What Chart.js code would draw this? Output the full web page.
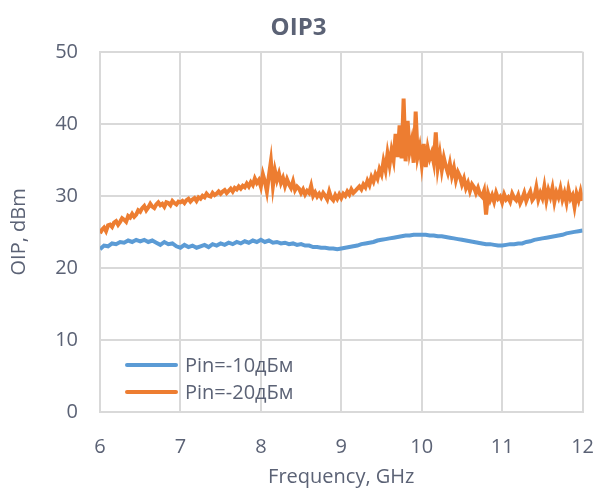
<!DOCTYPE html>
<html>
<head>
<meta charset="utf-8">
<script src="https://cdn.jsdelivr.net/npm/chart.js@4.4.1/dist/chart.umd.min.js"></script>
<style>
  html, body { margin: 0; padding: 0; background: #fff; }
  #wrap { position: relative; width: 597px; height: 489px; }
  #legend { position: absolute; left: 125px; top: 351px; font-family: "Open Sans", sans-serif; font-size: 20px; color: #5b6275; }
  .row { display: flex; align-items: center; height: 27px; }
  .sw { width: 53px; height: 4px; border-radius: 2px; margin-right: 7px; }
</style>
</head>
<body>
<div id="wrap">
  <canvas id="c" width="597" height="489"></canvas>
  <div id="legend"></div>
</div>
<script>
const TEXT = '#5b6275';
const GRID = '#d9d9d9';

const seriesNames = ['Pin=-10дБм', 'Pin=-20дБм'];
const seriesColors = ['#5b9bd5', '#ed7d31'];
const xTicks = [6, 7, 8, 9, 10, 11, 12];
const yTicks = [0, 10, 20, 30, 40, 50];

// blue: 6.00 .. 12.00 GHz, step 0.05
const blueStart = 6, blueStep = 0.05;
const blueValues = [
  22.6, 23.1, 23.0, 23.4, 23.3, 23.6, 23.5, 23.8, 23.6, 23.9,
  23.7, 23.9, 23.6, 23.8, 23.5, 23.2, 23.6, 23.3, 23.4, 23.0,
  22.8, 23.2, 22.9, 23.1, 22.8, 23.0, 23.2, 22.9, 23.3, 23.1,
  23.4, 23.2, 23.5, 23.3, 23.6, 23.4, 23.7, 23.5, 23.8, 23.6,
  23.9, 23.6, 23.8, 23.5, 23.6, 23.4, 23.5, 23.3, 23.4, 23.2,
  23.3, 23.1, 23.1, 22.9, 22.9, 22.8, 22.8, 22.7, 22.7, 22.6,
  22.7, 22.8, 22.9, 23.0, 23.1, 23.3, 23.4, 23.5, 23.6, 23.8,
  23.9, 24.0, 24.1, 24.2, 24.3, 24.4, 24.5, 24.5, 24.6, 24.6,
  24.6, 24.6, 24.5, 24.5, 24.4, 24.4, 24.3, 24.2, 24.1, 24.0,
  23.9, 23.8, 23.7, 23.6, 23.5, 23.4, 23.3, 23.3, 23.2, 23.1,
  23.1, 23.2, 23.3, 23.3, 23.4, 23.4, 23.6, 23.7, 23.9, 24.0,
  24.1, 24.2, 24.3, 24.4, 24.5, 24.6, 24.8, 24.9, 25.0, 25.1,
  25.2
];

// orange: 6.000 .. 12.000 GHz, step 0.025
const orangeStart = 6, orangeStep = 0.025;
const orangeValues = [
  24.8, 25.3, 25.6, 25.1, 25.9, 26.0, 25.7, 26.3, 26.5, 26.0,
  26.4, 26.9, 26.7, 26.4, 27.2, 27.0, 27.5, 27.1, 27.4, 28.0,
  27.8, 28.3, 28.6, 28.0, 28.4, 28.9, 28.5, 28.3, 28.8, 29.1,
  28.7, 28.9, 28.5, 29.1, 29.0, 28.7, 29.3, 29.0, 28.8, 29.2,
  29.1, 29.3, 29.0, 29.4, 29.6, 29.2, 29.5, 29.7, 29.3, 29.8,
  29.6, 30.0, 29.8, 30.3, 30.0, 29.9, 30.4, 30.1, 30.3, 30.6,
  30.3, 30.6, 30.8, 30.4, 30.7, 31.0, 30.6, 31.1, 30.9, 31.3,
  31.0, 31.4, 31.2, 31.7, 31.3, 31.9, 31.5, 32.4, 31.8, 32.2,
  31.3, 33.0, 32.0, 30.6, 32.8, 34.8, 31.4, 33.5, 32.2, 33.1,
  31.8, 32.5, 31.4, 32.3, 31.6, 31.1, 32.0, 30.8, 31.3, 31.0,
  30.4, 30.9, 30.2, 30.7, 30.4, 31.4, 30.0, 30.5, 29.9, 30.3,
  29.8, 30.4, 30.0, 29.5, 30.6, 29.7, 29.4, 30.1, 29.6, 30.2,
  29.7, 30.3, 30.0, 30.6, 30.2, 30.9, 30.4, 30.7, 31.0, 31.3,
  30.9, 31.6, 31.2, 32.1, 31.5, 32.6, 32.0, 33.0, 32.4, 33.7,
  33.0, 34.8, 33.6, 35.9, 34.3, 36.3, 35.0, 38.6, 35.4, 39.8,
  35.2, 43.5, 34.8, 40.4, 36.2, 37.6, 34.6, 41.7, 35.5, 36.8,
  34.4, 37.2, 34.0, 36.6, 35.2, 36.0, 34.6, 38.8, 34.0, 35.8,
  33.6, 35.3, 34.1, 33.2, 34.5, 32.8, 33.9, 32.2, 33.3, 32.7,
  31.6, 32.4, 31.1, 31.8, 30.7, 31.6, 31.2, 30.4, 31.1, 30.2,
  29.9, 30.7, 27.4, 30.3, 29.4, 30.1, 29.2, 30.4, 29.6, 29.9,
  29.1, 30.2, 29.5, 29.8, 29.2, 30.3, 29.7, 29.4, 30.1, 29.0,
  29.6, 30.4, 29.3, 30.0, 30.6, 29.4, 29.8, 31.2, 29.5, 30.4,
  29.7, 31.3, 29.4, 30.8, 29.9, 31.1, 29.2, 30.5, 29.8, 31.0,
  29.5, 30.4, 29.1, 30.9, 29.6, 30.1, 28.5, 30.3, 29.4, 30.6,
  29.3
];

function toPoints(start, step, values) {
  return values.map((v, i) => ({ x: +(start + i * step).toFixed(3), y: v }));
}

// legend as html
document.getElementById('legend').innerHTML = seriesNames.map((n, i) =>
  `<div class="row"><span class="sw" style="background:${seriesColors[i]}"></span>${n}</div>`
).join('');

const font = { family: '"Open Sans", sans-serif', size: 20 };

new Chart(document.getElementById('c'), {
  type: 'line',
  data: {
    datasets: [
      { label: seriesNames[0], data: toPoints(blueStart, blueStep, blueValues), borderColor: seriesColors[0], borderWidth: 4, pointRadius: 0, tension: 0 },
      { label: seriesNames[1], data: toPoints(orangeStart, orangeStep, orangeValues), borderColor: seriesColors[1], borderWidth: 4, pointRadius: 0, tension: 0 }
    ]
  },
  options: {
    responsive: false,
    animation: false,
    layout: { padding: { left: 0, right: 0, top: 0, bottom: 0 } },
    plugins: {
      legend: { display: false },
      tooltip: { enabled: false },
      title: {
        display: true, text: 'OIP3', color: TEXT,
        font: { family: '"Open Sans", sans-serif', size: 24, weight: 'bold' },
        padding: { top: 14, bottom: 9 }
      }
    },
    scales: {
      x: {
        type: 'linear', min: 6, max: 12,
        afterBuildTicks: s => { s.ticks = xTicks.map(v => ({ value: v })); },
        afterFit: s => { s.height = 77; },
        ticks: { color: TEXT, font, padding: 3 },
        // invisible tick marks push labels down without widening the side overflow
        grid: { color: GRID, lineWidth: 2, drawTicks: true, tickLength: 20, tickColor: 'rgba(0,0,0,0)' },
        border: { color: GRID, width: 2 },
        title: { display: true, text: 'Frequency, GHz', color: TEXT, font, padding: { top: 0, bottom: 0 } }
      },
      y: {
        min: 0, max: 50,
        afterBuildTicks: s => { s.ticks = yTicks.map(v => ({ value: v })); },
        afterFit: s => { s.width = 100; },
        ticks: { color: TEXT, font, padding: 22 },
        grid: { color: GRID, lineWidth: 2, drawTicks: false },
        border: { color: GRID, width: 2 },
        title: { display: true, text: 'OIP, dBm', color: TEXT, font, padding: { top: 7, bottom: 0 } }
      }
    }
  }
});
</script>
</body>
</html>
